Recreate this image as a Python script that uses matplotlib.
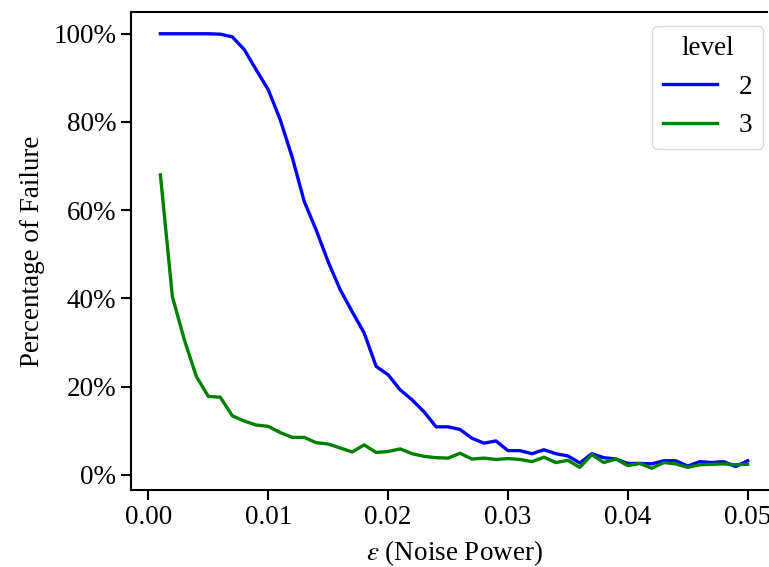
import numpy as np
import matplotlib
matplotlib.use("Agg")
import matplotlib.pyplot as plt
from matplotlib.ticker import PercentFormatter

plt.rcParams['font.family'] = ['Liberation Serif', 'DejaVu Serif']
plt.rcParams['mathtext.fontset'] = 'stix'

# noise power values
eps = np.arange(1, 51) / 1000.0

# failure percentage, level 2
level2 = [100, 100, 100, 100, 100, 99.9, 99.3, 96.4, 91.8, 87.3,
          80.5, 72.0, 62.0, 55.5, 48.3, 42.0, 37.0, 32.2, 24.6, 22.7,
          19.3, 17.0, 14.3, 10.9, 10.9, 10.3, 8.3, 7.2, 7.7, 5.5,
          5.5, 4.8, 5.7, 4.8, 4.3, 2.7, 4.8, 3.9, 3.6, 2.6,
          2.6, 2.5, 3.2, 3.2, 2.0, 3.0, 2.8, 3.0, 1.9, 3.2]

# failure percentage, level 3
level3 = [68.0, 40.4, 30.6, 22.3, 17.8, 17.6, 13.4, 12.2, 11.3, 11.0,
          9.6, 8.5, 8.5, 7.3, 7.0, 6.1, 5.2, 6.8, 5.1, 5.3,
          5.9, 4.8, 4.2, 3.9, 3.8, 4.9, 3.6, 3.8, 3.5, 3.7,
          3.5, 3.0, 4.0, 2.8, 3.3, 1.7, 4.6, 2.8, 3.6, 2.1,
          2.6, 1.5, 2.8, 2.5, 1.7, 2.3, 2.4, 2.5, 2.3, 2.4]

fs = 19.5
fig = plt.figure(figsize=(7.69, 5.67), dpi=100)
# axes run past the right edge, as in the cropped original
ax = fig.add_axes([0.1704, 0.1358, 0.8400, 0.8430])

ax.plot(eps, level2, color='b', lw=2.4, label='2')
ax.plot(eps, level3, color='g', lw=2.4, label='3')

ax.yaxis.set_major_formatter(PercentFormatter(decimals=0))
ax.set_yticks([0, 20, 40, 60, 80, 100])
ax.set_xticks([0.0, 0.01, 0.02, 0.03, 0.04, 0.05])
ax.set_xticklabels(['0.00', '0.01', '0.02', '0.03', '0.04', '0.05'])
ax.tick_params(labelsize=fs, width=1.5, length=7)
for s in ax.spines.values():
    s.set_linewidth(1.5)

# right spine is off the canvas; draw the top edge only up to the canvas edge
ax.spines['right'].set_visible(False)
ax.spines['top'].set_visible(False)
ax.plot([0, 0.985], [1, 1], transform=ax.transAxes, color='k', lw=1.5,
        clip_on=False, solid_capstyle='projecting')

ax.set_xlabel(r'$\varepsilon$ (Noise Power)', fontsize=fs, labelpad=6)
ax.set_ylabel('Percentage of Failure', fontsize=fs, labelpad=6)

leg = ax.legend(title='level', fontsize=fs, title_fontsize=fs, loc='upper right')

fig.savefig('out.png', dpi=100)
